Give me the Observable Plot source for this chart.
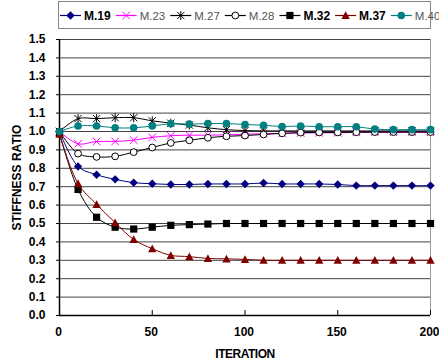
<!DOCTYPE html>
<html><head><meta charset="utf-8">
<script src="https://cdn.jsdelivr.net/npm/d3@7"></script>
<script src="https://cdn.jsdelivr.net/npm/@observablehq/plot@0.6"></script>
<style>
body{margin:0;background:#fff;font-family:"Liberation Sans",Arial,sans-serif}
#wrap{position:relative;width:439px;height:360px;overflow:hidden}
#wrap svg.legend{position:absolute;left:0;top:0}
</style></head><body><div id="wrap"></div>
<script>
// ---- data ----
const iterations = [0,10,20,30,40,50,60,70,80,90,100,110,120,130,140,150,160,170,180,190,200];
const seriesNames = ["M.19","M.23","M.27","M.28","M.32","M.37","M.40"];
const m19 = [1.00,0.81,0.765,0.74,0.722,0.716,0.712,0.712,0.715,0.715,0.715,0.72,0.715,0.715,0.715,0.712,0.706,0.706,0.706,0.706,0.706];
const m23 = [1.00,0.933,0.946,0.946,0.953,0.968,0.977,0.98,0.98,0.982,0.985,0.988,0.99,0.992,0.993,0.993,0.995,0.995,0.995,0.995,0.995];
const m27 = [1.00,1.07,1.07,1.075,1.075,1.058,1.045,1.035,1.02,1.01,1.005,1.003,1.003,1.003,1.003,1.003,1.003,1.003,1.003,1.003,1.003];
const m28 = [1.00,0.88,0.862,0.865,0.888,0.913,0.938,0.952,0.966,0.974,0.978,0.984,0.99,0.994,0.995,0.995,0.996,0.997,0.997,0.997,0.997];
const m32 = [0.99,0.685,0.534,0.48,0.47,0.48,0.49,0.494,0.497,0.5,0.5,0.5,0.5,0.5,0.5,0.5,0.5,0.5,0.5,0.5,0.5];
const m37 = [0.985,0.717,0.604,0.505,0.413,0.363,0.327,0.32,0.31,0.308,0.305,0.3,0.3,0.3,0.3,0.3,0.3,0.3,0.3,0.3,0.3];
const m40 = [1.00,1.03,1.03,1.02,1.02,1.03,1.042,1.04,1.043,1.043,1.038,1.034,1.027,1.03,1.026,1.026,1.026,1.013,1.01,1.01,1.01];
const seriesValues = [m19,m23,m27,m28,m32,m37,m40];
const yTicks = [0,0.1,0.2,0.3,0.4,0.5,0.6,0.7,0.8,0.9,1.0,1.1,1.2,1.3,1.4,1.5];
const xTicks = [0,50,100,150,200];

// ---- styles ----
const sym = {
  diamond:{draw(c){const h=4.2;c.moveTo(0,-h);c.lineTo(h,0);c.lineTo(0,h);c.lineTo(-h,0);c.closePath();}},
  times:{draw(c){const h=3.8;c.moveTo(-h,-h);c.lineTo(h,h);c.moveTo(-h,h);c.lineTo(h,-h);}},
  asterisk:{draw(c){const h=3.6;c.moveTo(-h,-h);c.lineTo(h,h);c.moveTo(-h,h);c.lineTo(h,-h);c.moveTo(0,-h-0.9);c.lineTo(0,h+0.9);}},
  ocircle:{draw(c){const r=3.4;c.moveTo(r,0);c.arc(0,0,r,0,2*Math.PI);}},
  square:{draw(c){const h=3.6;c.rect(-h,-h,2*h,2*h);}},
  triangle:{draw(c){const h=4.2;c.moveTo(0,-h);c.lineTo(h,h*0.85);c.lineTo(-h,h*0.85);c.closePath();}},
  circle:{draw(c){const r=3.8;c.moveTo(r,0);c.arc(0,0,r,0,2*Math.PI);}}
};
const styles = {
  "M.19":{color:"#000080", symbol:sym.diamond, fill:"#000080", stroke:"none", bold:true},
  "M.23":{color:"#ff00ff", symbol:sym.times, fill:"none", stroke:"#ff00ff", bold:false},
  "M.27":{color:"#000000", symbol:sym.asterisk, fill:"none", stroke:"#000", bold:false},
  "M.28":{color:"#000000", symbol:sym.ocircle, fill:"#fff", stroke:"#000", bold:false},
  "M.32":{color:"#000000", symbol:sym.square, fill:"#000", stroke:"none", bold:true},
  "M.37":{color:"#800000", symbol:sym.triangle, fill:"#800000", stroke:"none", bold:true},
  "M.40":{color:"#008080", symbol:sym.circle, fill:"#008080", stroke:"none", bold:false}
};

const rows = seriesNames.flatMap((s,i)=>iterations.map((it,j)=>({series:s, iter:it, value:seriesValues[i][j]})));

const seriesMarks = seriesNames.flatMap(s=>{
  const d = rows.filter(r=>r.series===s); const st = styles[s];
  return [
    Plot.line(d,{x:"iter",y:"value",stroke:st.color,strokeWidth:1,curve:"catmull-rom"}),
    Plot.dot(d,{x:"iter",y:"value",symbol:st.symbol,r:3,fill:st.fill,stroke:st.stroke,strokeWidth:1})
  ];
});

const plot = Plot.plot({
  width:439, height:360,
  marginTop:39, marginBottom:45, marginLeft:59, marginRight:9,
  x:{domain:[0,200]}, y:{domain:[0,1.5]},
  style:{fontFamily:"'Liberation Sans', Arial, sans-serif", fontSize:"12px", fontWeight:"bold", color:"#000", background:"transparent"},
  marks:[
    Plot.ruleY(yTicks.slice(1),{stroke:"#444",strokeWidth:1}),
    Plot.ruleX([200],{stroke:"#999"}),
    Plot.tickX(xTicks.slice(1),{insetTop:271,stroke:"#000"}),
    Plot.axisY({ticks:yTicks, tickFormat:d=>d.toFixed(1), tickSize:3, tickPadding:11, label:"STIFFNESS RATIO", labelAnchor:"center", labelOffset:47, labelArrow:"none"}),
    Plot.axisX({ticks:xTicks, tickSize:0, tickPadding:12, dx:-1, label:"ITERATION", labelAnchor:"center", labelOffset:42, labelArrow:"none"}),
    Plot.ruleX([0],{stroke:"#000",strokeWidth:1.5}),
    Plot.ruleY([0],{stroke:"#000",strokeWidth:1.5}),
    ...seriesMarks
  ]
});
const wrap = document.getElementById("wrap");
wrap.appendChild(plot);
const xl = plot.querySelector('[aria-label="x-axis label"]');
if (xl) xl.setAttribute("letter-spacing","-0.5");

// ---- legend ----
const lg = d3.select(wrap).append("svg").attr("class","legend").attr("width",439).attr("height",32)
  .style("font-family","'Liberation Sans', Arial, sans-serif");
lg.append("rect").attr("x",58.5).attr("y",1.5).attr("width",372).attr("height",27).attr("fill","#fff").attr("stroke","#888");
let xpos = 60;
seriesNames.forEach(s=>{
  const st = styles[s];
  const g = lg.append("g");
  g.append("line").attr("x1",xpos).attr("x2",xpos+21).attr("y1",15.5).attr("y2",15.5).attr("stroke",st.color).attr("stroke-width",1.2);
  g.append("path").attr("transform",`translate(${xpos+10.5},15.5)`).attr("d",d3.symbol(st.symbol,30)())
    .attr("fill",st.fill).attr("stroke",st.stroke);
  const t = g.append("text").attr("x",xpos+24).attr("y",20).text(s)
    .attr("font-size",st.bold?"12px":"11.5px").attr("font-weight",st.bold?"bold":"normal")
    .attr("fill",st.bold?"#000":"#555");
  xpos += 24 + t.node().getComputedTextLength() + 5;
});
</script></body></html>
